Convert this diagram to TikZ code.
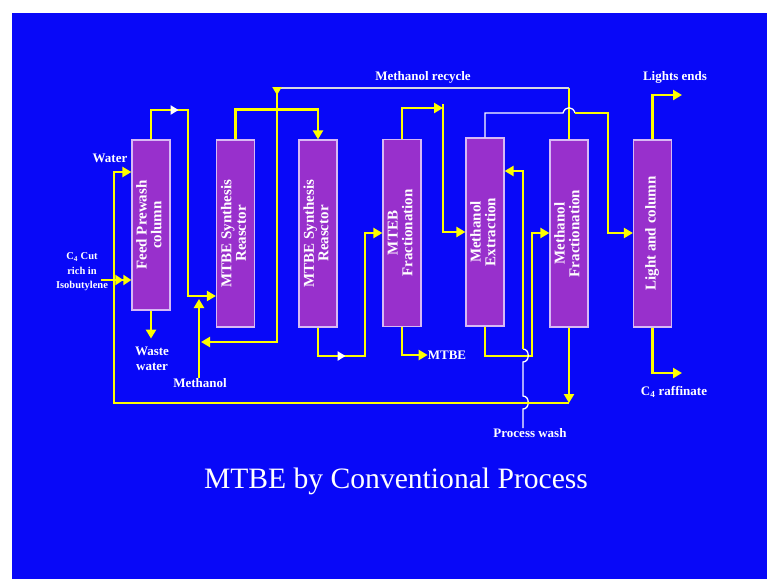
\documentclass[tikz,border=0pt]{standalone}
\usepackage{graphicx}
\usepackage{fontspec}
\setmainfont{Liberation Serif}
\usetikzlibrary{arrows.meta, decorations.markings}

\definecolor{slideblue}{RGB}{8,8,248}
\definecolor{towerfill}{RGB}{152,48,204}
\definecolor{towerline}{RGB}{215,185,245}
\definecolor{pipeyellow}{RGB}{255,255,0}
\definecolor{recyclegray}{RGB}{215,215,225}

\newcommand{\towertext}[1]{\rotatebox{90}{\begin{tabular}{@{}c@{}}#1\end{tabular}}}

\begin{document}
\begin{tikzpicture}[
  x=1pt, y=-1pt,
  yellowtip/.tip={Triangle[length=9pt, width=10pt]},
  tower/.style={
    draw=towerline,
    line width=1.2pt,
    fill=towerfill,
    minimum width=38pt,
    minimum height=187pt,
    inner sep=0pt,
    text=white,
    font=\fontsize{15}{14.5}\selectfont\bfseries
    },
  pipe/.style={draw=pipeyellow, line width=2.6pt},
  flow/.style={pipe, -yellowtip},
  washline/.style={draw=white, line width=1.3pt},
  midtip/.style 2 args={
    postaction={decorate},
    decoration={markings, mark=at position #1 with {\arrow{Triangle[length=8pt, width=9pt, color=#2]}}}
    },
  tag/.style={text=white, inner sep=0pt, font=\fontsize{13}{14.5}\selectfont\bfseries}
]

\fill[white] (0,0) rectangle (767,579);
\fill[slideblue] (12,13) rectangle (767,579);

\node[tower, minimum height=170pt] (feed) at (151,225) {\towertext{Feed Prewash\\column}};
\node[tower] (reactA) at (235.5,233.5) {\towertext{MTBE Synthesis\\Reasctor}};
\node[tower] (reactB) at (318,233.5) {\towertext{MTBE Synthesis\\Reasctor}};
\node[tower] (fract) at (402,233) {\towertext{MTEB\\Fractionation}};
\node[tower, minimum height=188pt] (extract) at (485,232) {\towertext{Methanol\\Extraction}};
\node[tower] (mfract) at (569,233.5) {\towertext{Methanol\\Fractionation}};
\node[tower] (light) at (652.5,233.5) {\towertext{Light and column}};

\node[tag] (water) at (110,158) {Water};
\node[tag, align=center, font=\fontsize{10.5}{14.5}\selectfont\bfseries] (cfour) at (82,272) {C\textsubscript{4} Cut\\rich in\\Isobutylene};
\node[tag, align=center] (waste) at (152,359) {Waste\\water};
\node[tag] (meoh) at (200,383) {Methanol};
\node[tag] (recycle) at (423,77) {Methanol recycle};
\node[tag] (mtbe) at (447,355) {MTBE};
\node[tag] (wash) at (530,433) {Process wash};
\node[tag] (lights) at (675,77) {Lights ends};
\node[tag] (raff) at (674,392) {C\textsubscript{4} raffinate};
\node[text=white, anchor=base, inner sep=0pt, font=\fontsize{29.6}{32}\selectfont] (title) at (396,488) {MTBE by Conventional Process};

\coordinate (rtop) at (277,88);
\coordinate (split) at (443,104);
\coordinate (hop) at (563,113);
\coordinate (ret) at (569,403);
\coordinate (washup) at (523,349);

\draw[pipe, -{Triangle[length=8pt, width=10pt] Triangle[length=8pt, width=10pt]}] (101,280) -- (feed.west |- 0,280);
\draw[flow] (feed.south) -- ++(0,28);
\draw[flow, midtip={57pt}{white}] (feed.north) |- (188,110) -- (188,296) -- (reactA.west |- 0,296);
\draw[flow] (meoh.north -| 199,0) -- (199,299);
\draw[flow] (reactA.north) -- ++(0,-30) -| (reactB.north);
\draw[pipe] (mfract.north) -- (mfract.north |- rtop);
\draw[draw=recyclegray, line width=2pt] (mfract.north |- rtop) -- (rtop);
\draw[flow, midtip={7pt}{pipeyellow}, shorten >=1pt] (rtop) -- (277,342) -- (200,342);
\draw[flow, midtip={56pt}{white}] (reactB.south) |- (365,356) -- (365,233) -- (fract.west |- 0,233);
\draw[flow] (fract.north) |- (split |- 0,108);
\draw[flow] (split) -- (443,232) -- (extract.west |- 0,232);
\draw[flow] (fract.south) |- (mtbe.west);
\draw[washline] (extract.north) |- (hop) .. controls (565,106) and (573,106) .. (575,113);
\draw[flow] (575,113) -| (608,233) -- (light.west |- 0,233);
\draw[flow] (extract.south) |- (532,356) -- (532,233) -- (mfract.west |- 0,233);
\draw[washline] (wash.north -| washup) -- (523,409) .. controls (530,409) and (530,396) .. (523,396)
  -- (523,362) .. controls (530,362) and (530,349) .. (washup);
\draw[flow] (washup) -- (523,171) -- (extract.east |- 0,171);
\draw[flow] (mfract.south) -- (ret);
\draw[flow] (ret) -| (114,172) -- (feed.west |- 0,172);
\draw[flow] (light.north) |- (682,95);
\draw[flow] (light.south) |- (682,373);

\end{tikzpicture}
\end{document}
